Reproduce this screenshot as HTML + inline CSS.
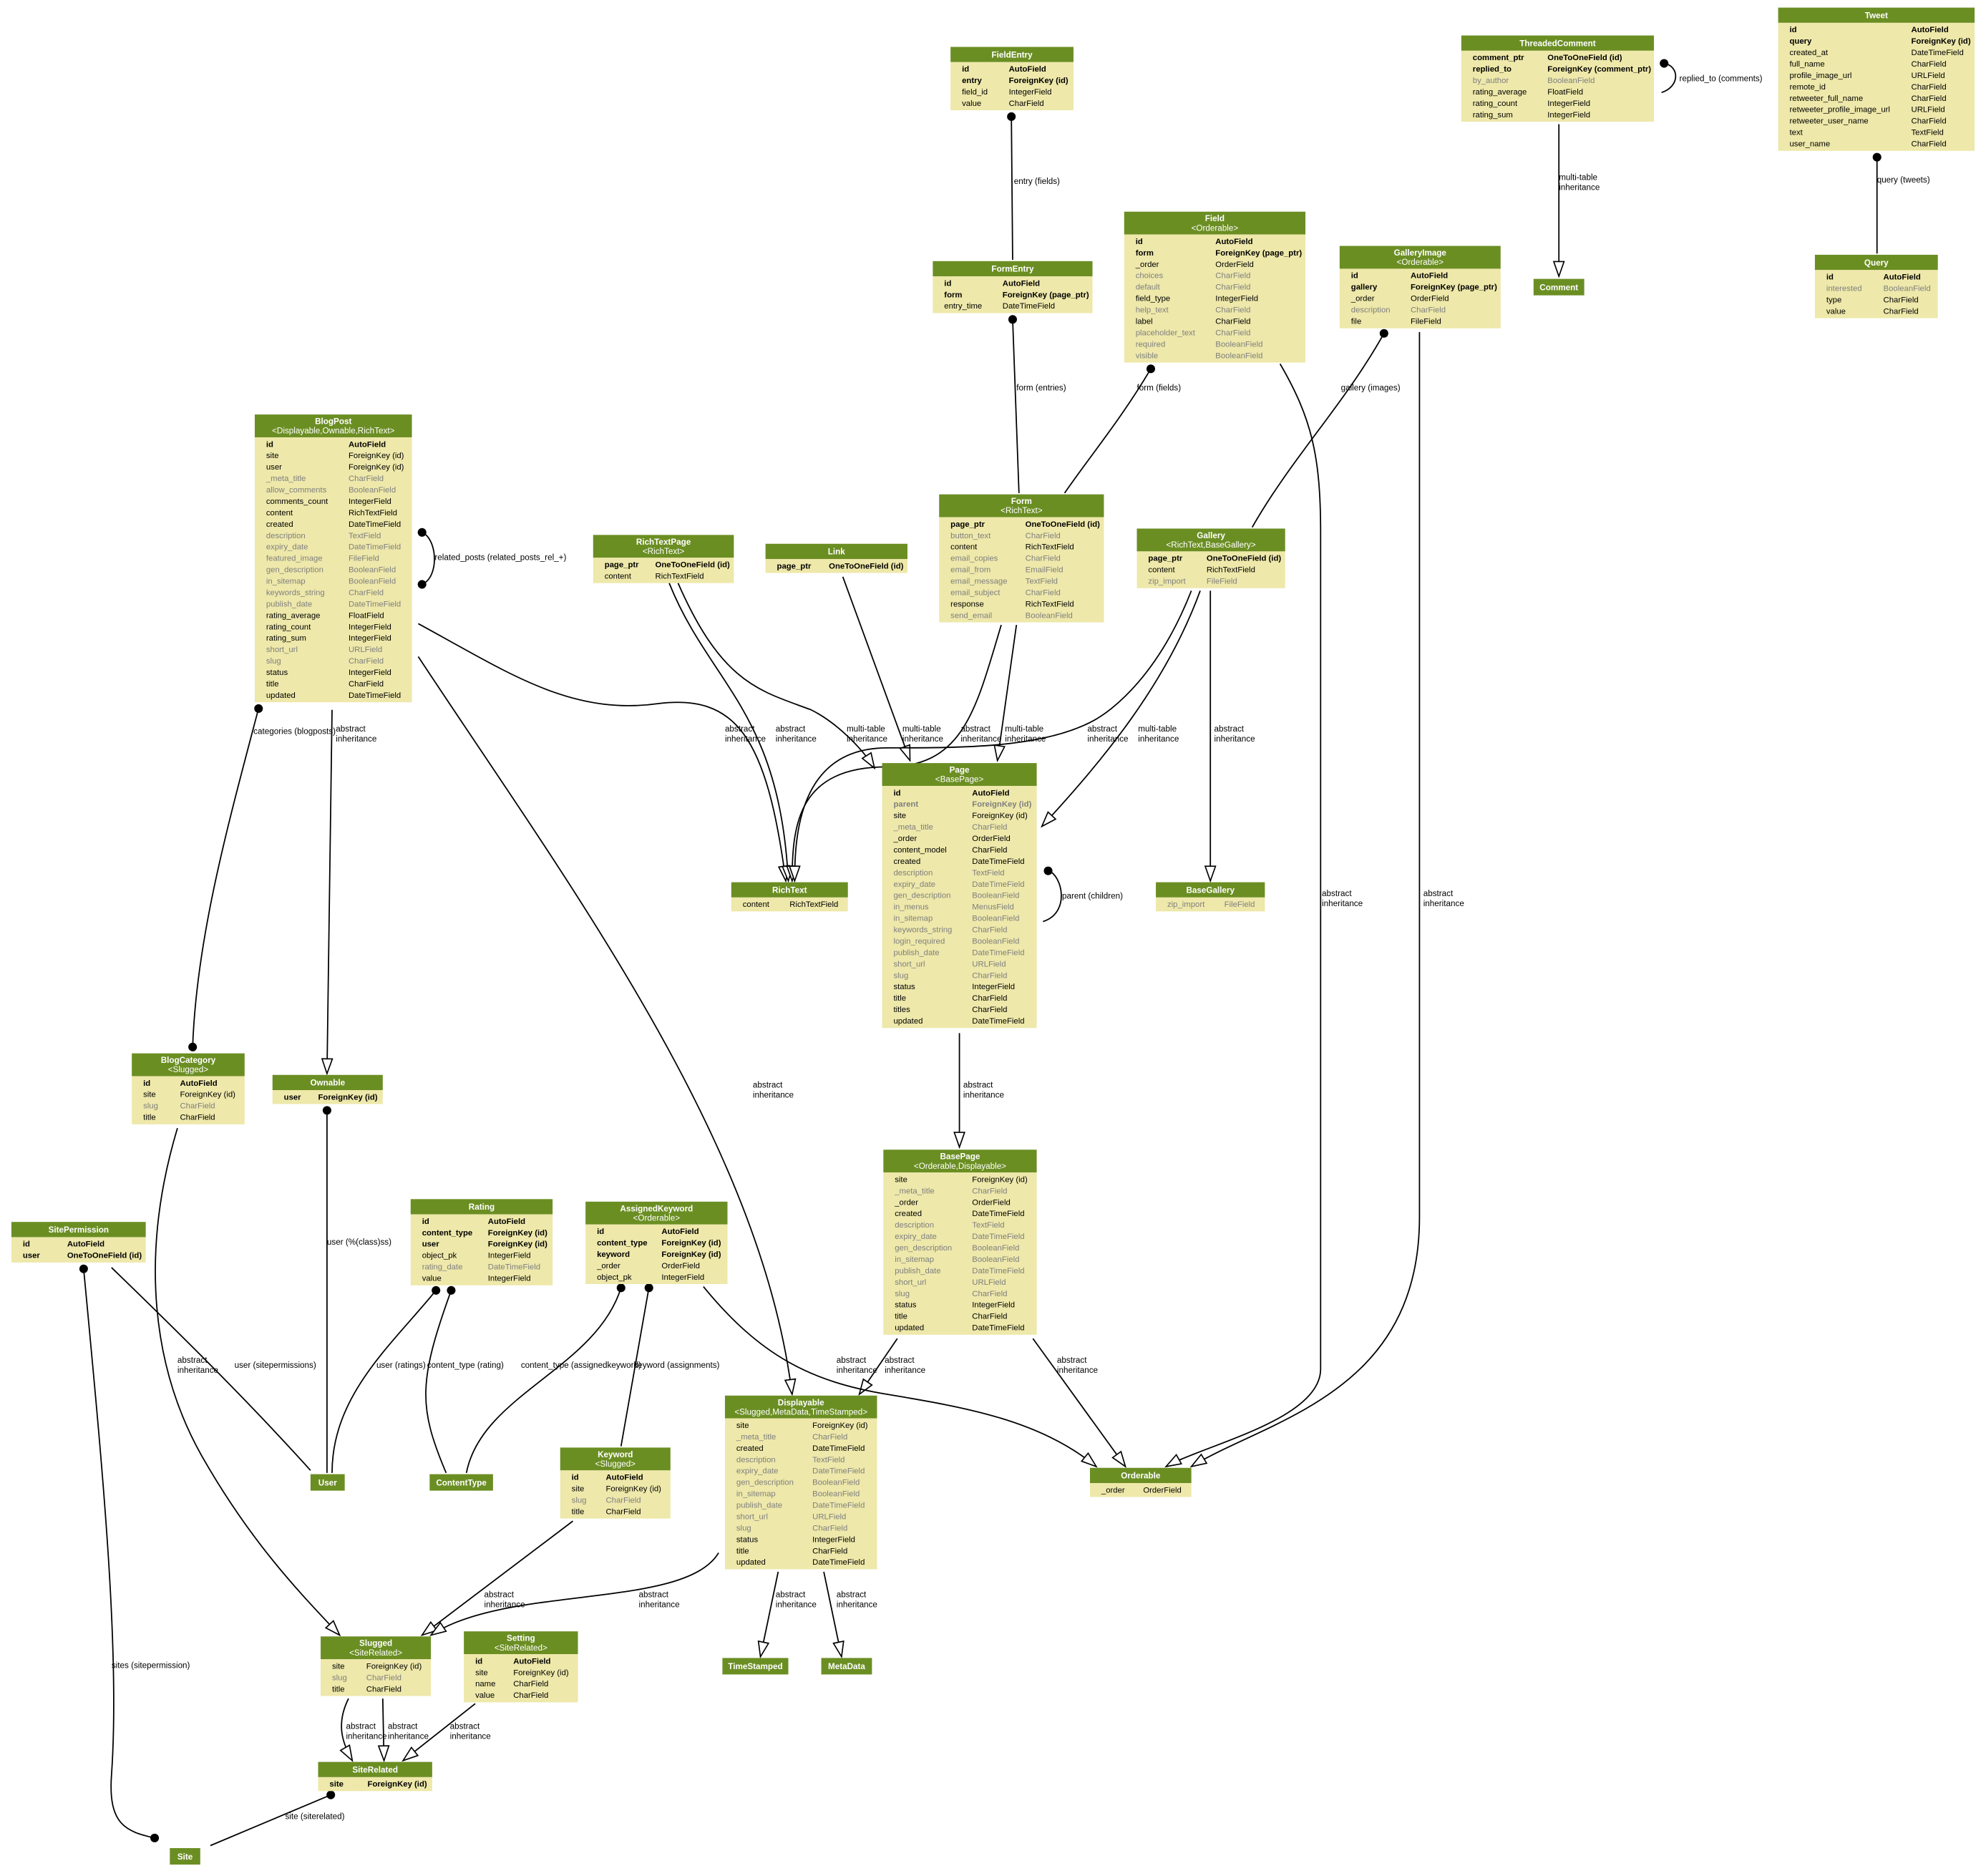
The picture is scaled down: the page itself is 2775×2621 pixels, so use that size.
<!DOCTYPE html>
<html><head><meta charset="utf-8"><style>
html,body{margin:0;padding:0;background:#fff;width:2775px;height:2621px;overflow:hidden}
svg{display:block}
text{font-family:"Liberation Sans",Arial,sans-serif}
</style></head><body>
<svg id="s" width="2775" height="2621" viewBox="0 0 1567 1480" preserveAspectRatio="none" xmlns="http://www.w3.org/2000/svg">
<defs>
<marker id="ar" markerUnits="userSpaceOnUse" markerWidth="14" markerHeight="10" refX="10" refY="4" orient="auto" viewBox="-1 0 12 8"><path d="M0,0.5 L10,4 L0,7.5 Z" fill="#fff" stroke="#000" stroke-width="0.8"/></marker>
<marker id="dt" markerUnits="userSpaceOnUse" markerWidth="8" markerHeight="8" refX="4" refY="4" orient="auto" viewBox="0 0 8 8"><circle cx="4" cy="4" r="3.4" fill="#000"/></marker>
</defs>
<g id="edges" fill="none" stroke="#000" stroke-width="1"></g>
<g id="labels" font-size="6.6" fill="#000"></g>
<g id="tables"></g>
</svg>
<script>
var NS="http://www.w3.org/2000/svg";
function el(p,t,a,txt){var e=document.createElementNS(NS,t);for(var k in a)e.setAttribute(k,a[k]);if(txt!=null)e.textContent=txt;p.appendChild(e);return e;}
var T=document.getElementById('tables'),E=document.getElementById('edges'),L=document.getElementById('labels');
var tables=[
["FieldEntry",null,750,847,37,796,[["id","AutoField","b"],["entry","ForeignKey (id)","b"],["field_id","IntegerField","n"],["value","CharField","n"]]],
["FormEntry",null,736,862,206,791,[["id","AutoField","b"],["form","ForeignKey (page_ptr)","b"],["entry_time","DateTimeField","n"]]],
["ThreadedComment",null,1153,1305,28,1221,[["comment_ptr","OneToOneField (id)","b"],["replied_to","ForeignKey (comment_ptr)","b"],["by_author","BooleanField","g"],["rating_average","FloatField","n"],["rating_count","IntegerField","n"],["rating_sum","IntegerField","n"]]],
["Tweet",null,1403,1558,6,1508,[["id","AutoField","b"],["query","ForeignKey (id)","b"],["created_at","DateTimeField","n"],["full_name","CharField","n"],["profile_image_url","URLField","n"],["remote_id","CharField","n"],["retweeter_full_name","CharField","n"],["retweeter_profile_image_url","URLField","n"],["retweeter_user_name","CharField","n"],["text","TextField","n"],["user_name","CharField","n"]]],
["Comment",null,1210,1250,220,0,[]],
["Query",null,1432,1529,201,1486,[["id","AutoField","b"],["interested","BooleanField","g"],["type","CharField","n"],["value","CharField","n"]]],
["Field","<Orderable>",887,1030,167,959,[["id","AutoField","b"],["form","ForeignKey (page_ptr)","b"],["_order","OrderField","n"],["choices","CharField","g"],["default","CharField","g"],["field_type","IntegerField","n"],["help_text","CharField","g"],["label","CharField","n"],["placeholder_text","CharField","g"],["required","BooleanField","g"],["visible","BooleanField","g"]]],
["GalleryImage","<Orderable>",1057,1184,194,1113,[["id","AutoField","b"],["gallery","ForeignKey (page_ptr)","b"],["_order","OrderField","n"],["description","CharField","g"],["file","FileField","n"]]],
["BlogPost","<Displayable,Ownable,RichText>",201,325,327,275,[["id","AutoField","b"],["site","ForeignKey (id)","n"],["user","ForeignKey (id)","n"],["_meta_title","CharField","g"],["allow_comments","BooleanField","g"],["comments_count","IntegerField","n"],["content","RichTextField","n"],["created","DateTimeField","n"],["description","TextField","g"],["expiry_date","DateTimeField","g"],["featured_image","FileField","g"],["gen_description","BooleanField","g"],["in_sitemap","BooleanField","g"],["keywords_string","CharField","g"],["publish_date","DateTimeField","g"],["rating_average","FloatField","n"],["rating_count","IntegerField","n"],["rating_sum","IntegerField","n"],["short_url","URLField","g"],["slug","CharField","g"],["status","IntegerField","n"],["title","CharField","n"],["updated","DateTimeField","n"]]],
["RichTextPage","<RichText>",468,579,422,517,[["page_ptr","OneToOneField (id)","b"],["content","RichTextField","n"]]],
["Link",null,604,716,429,654,[["page_ptr","OneToOneField (id)","b"]]],
["Form","<RichText>",741,871,390,809,[["page_ptr","OneToOneField (id)","b"],["button_text","CharField","g"],["content","RichTextField","n"],["email_copies","CharField","g"],["email_from","EmailField","g"],["email_message","TextField","g"],["email_subject","CharField","g"],["response","RichTextField","n"],["send_email","BooleanField","g"]]],
["Gallery","<RichText,BaseGallery>",897,1014,417,952,[["page_ptr","OneToOneField (id)","b"],["content","RichTextField","n"],["zip_import","FileField","g"]]],
["Page","<BasePage>",696,818,602,767,[["id","AutoField","b"],["parent","ForeignKey (id)","gb"],["site","ForeignKey (id)","n"],["_meta_title","CharField","g"],["_order","OrderField","n"],["content_model","CharField","n"],["created","DateTimeField","n"],["description","TextField","g"],["expiry_date","DateTimeField","g"],["gen_description","BooleanField","g"],["in_menus","MenusField","g"],["in_sitemap","BooleanField","g"],["keywords_string","CharField","g"],["login_required","BooleanField","g"],["publish_date","DateTimeField","g"],["short_url","URLField","g"],["slug","CharField","g"],["status","IntegerField","n"],["title","CharField","n"],["titles","CharField","n"],["updated","DateTimeField","n"]]],
["RichText",null,577,669,696,623,[["content","RichTextField","n"]]],
["BaseGallery",null,912,998,696,966,[["zip_import","FileField","g"]]],
["BasePage","<Orderable,Displayable>",697,818,907,767,[["site","ForeignKey (id)","n"],["_meta_title","CharField","g"],["_order","OrderField","n"],["created","DateTimeField","n"],["description","TextField","g"],["expiry_date","DateTimeField","g"],["gen_description","BooleanField","g"],["in_sitemap","BooleanField","g"],["publish_date","DateTimeField","g"],["short_url","URLField","g"],["slug","CharField","g"],["status","IntegerField","n"],["title","CharField","n"],["updated","DateTimeField","n"]]],
["BlogCategory","<Slugged>",104,193,831,142,[["id","AutoField","b"],["site","ForeignKey (id)","n"],["slug","CharField","g"],["title","CharField","n"]]],
["Ownable",null,215,302,848,251,[["user","ForeignKey (id)","b"]]],
["SitePermission",null,9,115,964,53,[["id","AutoField","b"],["user","OneToOneField (id)","b"]]],
["Rating",null,324,436,946,385,[["id","AutoField","b"],["content_type","ForeignKey (id)","b"],["user","ForeignKey (id)","b"],["object_pk","IntegerField","n"],["rating_date","DateTimeField","g"],["value","IntegerField","n"]]],
["AssignedKeyword","<Orderable>",462,574,948,522,[["id","AutoField","b"],["content_type","ForeignKey (id)","b"],["keyword","ForeignKey (id)","b"],["_order","OrderField","n"],["object_pk","IntegerField","n"]]],
["Displayable","<Slugged,MetaData,TimeStamped>",572,692,1101,641,[["site","ForeignKey (id)","n"],["_meta_title","CharField","g"],["created","DateTimeField","n"],["description","TextField","g"],["expiry_date","DateTimeField","g"],["gen_description","BooleanField","g"],["in_sitemap","BooleanField","g"],["publish_date","DateTimeField","g"],["short_url","URLField","g"],["slug","CharField","g"],["status","IntegerField","n"],["title","CharField","n"],["updated","DateTimeField","n"]]],
["Keyword","<Slugged>",442,529,1142,478,[["id","AutoField","b"],["site","ForeignKey (id)","n"],["slug","CharField","g"],["title","CharField","n"]]],
["User",null,245,272,1163,0,[]],
["ContentType",null,339,389,1163,0,[]],
["Orderable",null,860,940,1158,902,[["_order","OrderField","n"]]],
["Slugged","<SiteRelated>",253,340,1291,289,[["site","ForeignKey (id)","n"],["slug","CharField","g"],["title","CharField","n"]]],
["Setting","<SiteRelated>",366,456,1287,405,[["id","AutoField","b"],["site","ForeignKey (id)","n"],["name","CharField","n"],["value","CharField","n"]]],
["TimeStamped",null,570,622,1308,0,[]],
["MetaData",null,648,688,1308,0,[]],
["SiteRelated",null,251,341,1390,290,[["site","ForeignKey (id)","b"]]],
["Site",null,134,158,1458,0,[]]
];
tables.forEach(function(t){
  var x1=t[2],x2=t[3],y=t[4],tx=t[5],rows=t[6];
  var hh=t[1]?18:(rows.length?12:13);
  el(T,"rect",{x:x1,y:y,width:x2-x1,height:hh,fill:"#6b8e23"});
  var cx=(x1+x2)/2;
  if(t[1]){
    el(T,"text",{x:cx,y:y+7.6,"text-anchor":"middle","font-size":"6.6","font-weight":"bold",fill:"#fff"},t[0]);
    el(T,"text",{x:cx,y:y+15,"text-anchor":"middle","font-size":"6.6",fill:"#fff"},t[1]);
  } else {
    el(T,"text",{x:cx,y:y+hh/2+2.4,"text-anchor":"middle","font-size":"6.6","font-weight":"bold",fill:"#fff"},t[0]);
  }
  if(rows.length){
    var by=y+hh;
    el(T,"rect",{x:x1,y:by,width:x2-x1,height:rows.length*9+2,fill:"#eee8aa"});
    rows.forEach(function(r,i){
      var yy=by+7.5+9*i;
      var col=r[2].indexOf("g")>=0?"#7f7f7f":"#000";
      var w=r[2].indexOf("b")>=0?"bold":"normal";
      el(T,"text",{x:x1+9,y:yy,"font-size":"6.4",fill:col,"font-weight":w},r[0]);
      el(T,"text",{x:tx,y:yy,"font-size":"6.4",fill:col,"font-weight":w},r[1]);
    });
  }
});
var edges=[
["M798,92 L799,205",1,0,0],
["M799,252 L804,389",1,0,0],
["M908,291 C885,330 860,360 840,389",1,0,0],
["M1092,263 C1060,320 1020,360 988,416",1,0,0],
["M1230,98 L1230,218",0,1,0],
["M1313,50 C1325,52 1326,68 1311,73",1,0,0],
["M1481,124 L1481,200",1,0,0],
["M1010,287 C1035,330 1042,360 1042,420 L1042,1080 C1042,1120 950,1140 920,1157",0,1,0],
["M1120,262 L1120,960 C1120,1100 1000,1120 940,1157",0,1,0],
["M333,420 C345,425 347,455 333,461",1,0,1],
["M330,492 C400,530 450,565 520,555 C580,548 605,580 620,695",0,1,0],
["M330,518 C450,700 600,900 625,1100",0,1,0],
["M204,559 C180,650 155,740 152,826",1,0,1],
["M262,560 L258,847",0,1,0],
["M528,460 C560,540 615,560 622,695",0,1,0],
["M535,460 C570,540 600,545 640,560 C660,570 680,590 690,606",0,1,0],
["M665,455 L718,600",0,1,0],
["M790,493 C770,560 760,605 700,605 C630,605 625,650 625,695",0,1,0],
["M802,493 L787,600",0,1,0],
["M940,466 C915,530 880,560 860,570 C820,590 760,590 700,590 C630,590 627,660 627,695",0,1,0],
["M947,466 C920,540 870,600 822,652",0,1,0],
["M955,466 L955,695",0,1,0],
["M827,687 C838,690 845,720 823,727",1,0,0],
["M757,815 L757,905",0,1,0],
["M708,1056 L678,1100",0,1,0],
["M815,1056 L888,1157",0,1,0],
["M555,1015 C600,1070 640,1090 700,1100 C760,1110 820,1120 865,1157",0,1,0],
["M140,890 C110,990 120,1080 160,1150 C200,1220 240,1260 268,1290",0,1,0],
["M258,876 L258,1162",1,0,0],
["M88,1000 C150,1060 200,1110 245,1160",0,0,0],
["M66,1001 C80,1150 95,1300 88,1400 C85,1440 100,1445 122,1450",1,0,1],
["M344,1018 C310,1060 262,1100 262,1162",1,0,0],
["M356,1018 C330,1090 330,1110 352,1162",1,0,0],
["M490,1016 C470,1080 380,1100 368,1162",1,0,0],
["M512,1016 L490,1141",1,0,0],
["M452,1200 L333,1290",0,1,0],
["M567,1225 C540,1270 400,1250 340,1290",0,1,0],
["M614,1240 L600,1307",0,1,0],
["M650,1240 L664,1307",0,1,0],
["M275,1340 C265,1360 270,1375 278,1389",0,1,0],
["M302,1340 L303,1389",0,1,0],
["M375,1344 L318,1389",0,1,0],
["M261,1416 L166,1456",1,0,0]
];
edges.forEach(function(e){
  var a={d:e[0]};
  if(e[1])a["marker-start"]="url(#dt)";
  if(e[2])a["marker-end"]="url(#ar)";
  if(e[3])a["marker-end"]="url(#dt)";
  el(E,"path",a);
});
var AI=["abstract","inheritance"],MT=["multi-table","inheritance"];
var labels=[
[800,145,["entry (fields)"]],[802,308,["form (entries)"]],[897,308,["form (fields)"]],[1058,308,["gallery (images)"]],
[1230,142,MT],[1325,64,["replied_to (comments)"]],[1481,144,["query (tweets)"]],
[1043,707,AI],[1123,707,AI],[343,442,["related_posts (related_posts_rel_+)"]],
[572,577,AI],[612,577,AI],[668,577,MT],[712,577,MT],[758,577,AI],[793,577,MT],[858,577,AI],[898,577,MT],[958,577,AI],
[838,709,["parent (children)"]],[594,858,AI],[200,579,["categories (blogposts)"]],[265,577,AI],[760,858,AI],
[698,1075,AI],[834,1075,AI],[660,1075,AI],[140,1075,AI],[258,982,["user (%(class)ss)"]],[185,1079,["user (sitepermissions)"]],
[88,1316,["sites (sitepermission)"]],[297,1079,["user (ratings)"]],[337,1079,["content_type (rating)"]],
[411,1079,["content_type (assignedkeyword)"]],[500,1079,["keyword (assignments)"]],
[382,1260,AI],[504,1260,AI],[612,1260,AI],[660,1260,AI],[273,1364,AI],[306,1364,AI],[355,1364,AI],[225,1435,["site (siterelated)"]]
];
labels.forEach(function(l){
  l[2].forEach(function(s,i){el(L,"text",{x:l[0],y:l[1]+i*8},s);});
});
</script>
</body></html>
